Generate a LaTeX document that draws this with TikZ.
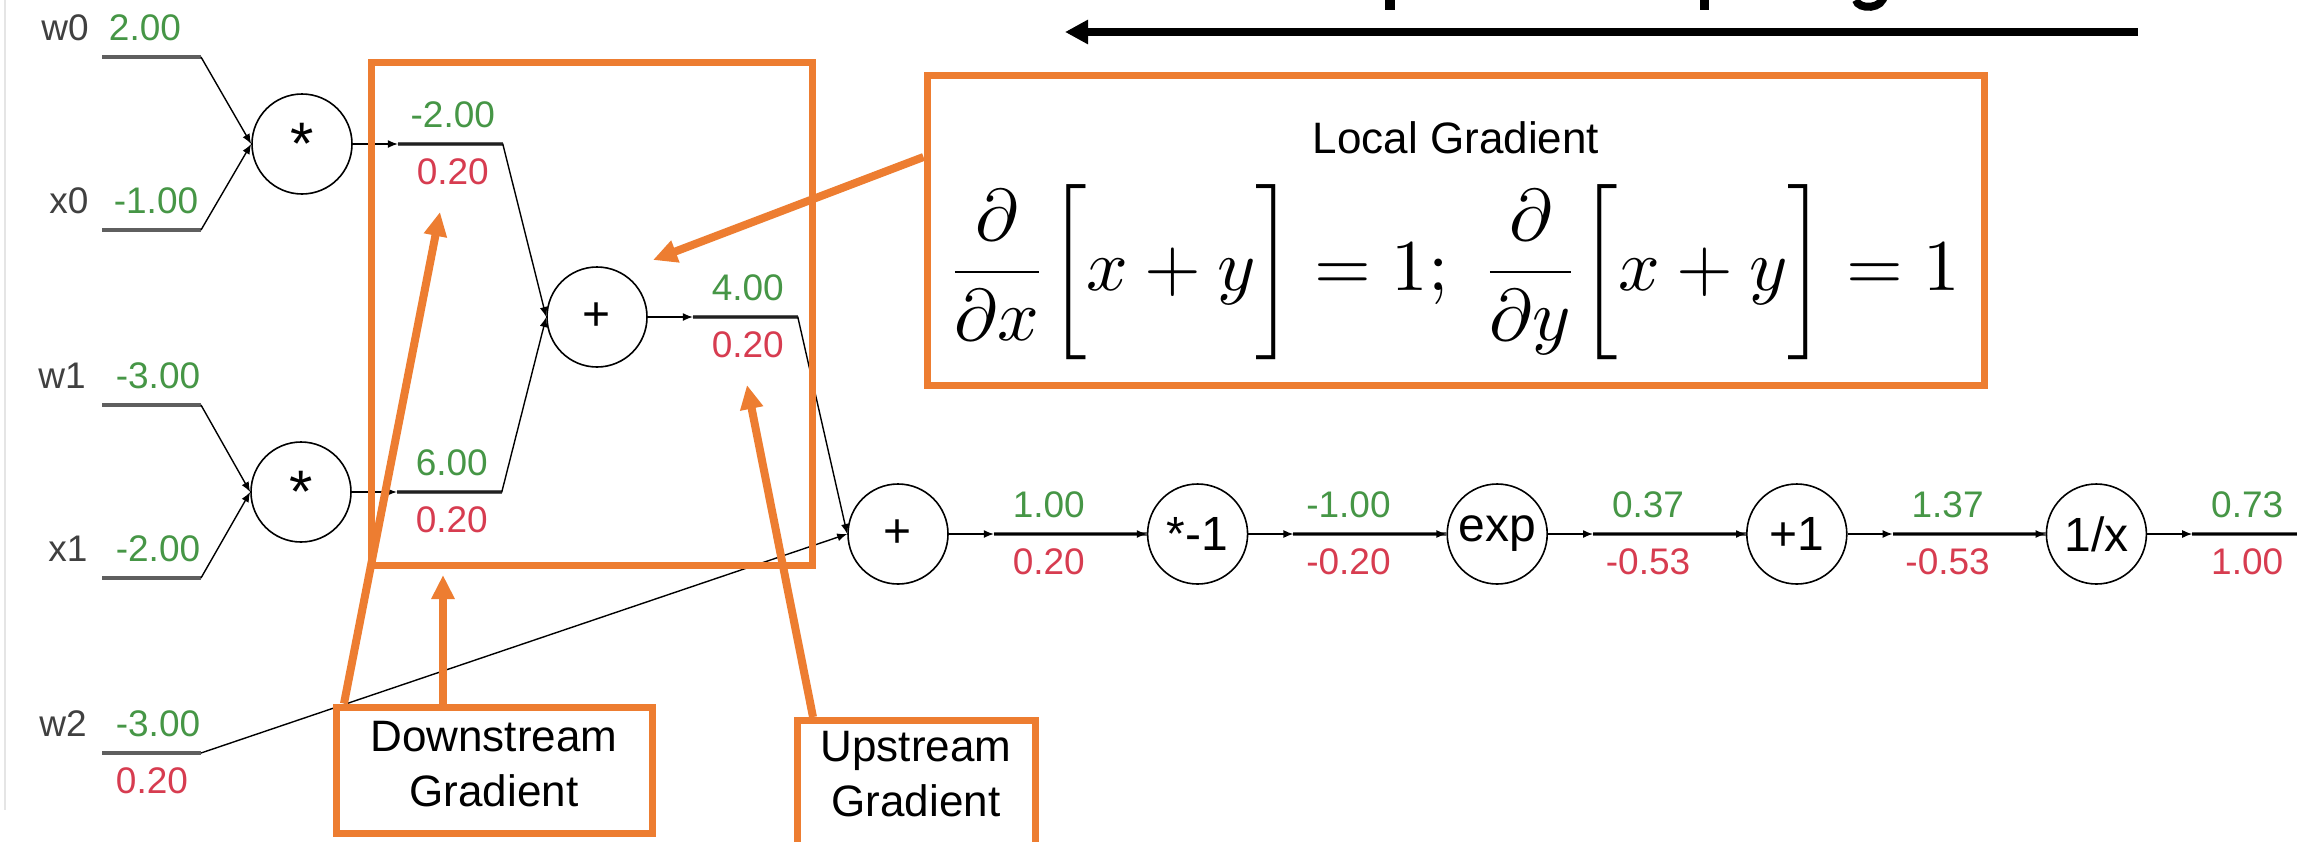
\documentclass[tikz,border=0pt]{standalone}
\usepackage{amsmath}
\usepackage{graphicx}
\usepackage[no-math]{fontspec}
\newfontfamily\arial{Liberation Sans}
\usepackage{tikz}
\usetikzlibrary{positioning, arrows.meta}

\definecolor{slideorange}{RGB}{237,125,49}
\definecolor{valgreen}{RGB}{70,150,70}
\definecolor{gradred}{RGB}{215,60,80}
\definecolor{wiregray}{RGB}{95,95,95}

\begin{document}
\begin{tikzpicture}[x=0.5pt, y=-0.5pt,
  font=\arial,
  gate/.style={draw, circle, line width=0.8pt, minimum size=50pt, inner sep=0pt,
    font=\arial\fontsize{24pt}{24pt}\selectfont},
  wire/.style={line width=0.7pt, -{Latex[length=5pt,width=4pt]}},
  valline/.style={line width=1.8pt, draw=wiregray},
  val/.style={text=valgreen, inner sep=0pt, font=\arial\fontsize{18.5pt}{20pt}\selectfont},
  grad/.style={val, text=gradred},
  inname/.style={val, text=black!75},
  obox/.style={draw=slideorange, line width=3.5pt},
  oarrow/.style={draw=slideorange, line width=4pt, -{Triangle[length=12pt,width=11pt]}},
  boxtext/.style={align=center, inner sep=0pt, font=\arial\fontsize{22pt}{27.5pt}\selectfont},
]
  \useasboundingbox (0,0) rectangle (2305,841);
  \clip (0,0) rectangle (2305,841);
  \fill[white] (0,0) rectangle (2305,841);
  \draw[black!10, line width=0.6pt] (5,0) -- (5,810);

  % cut-off title, only descenders left
  \fill (1385,0) rectangle (1395,10);
  \fill (1700,0) rectangle (1709,10);
  \draw[line width=4pt] (1884,-6) .. controls (1884,10) and (1858,10) .. (1856,0);

  % backward direction
  \coordinate (bpstart) at (2138,32);
  \coordinate (bpend) at (1065,32);
  \draw[line width=4pt, -{Triangle[length=11.5pt,width=11.5pt]}] (bpstart) -- (bpend);

  % gates
  \node[gate] (mul0) at (302,144) {\raisebox{-7pt}{\fontsize{30pt}{30pt}\selectfont *}};
  \node[gate] (mul1) at (301,492) {\raisebox{-7pt}{\fontsize{30pt}{30pt}\selectfont *}};
  \node[gate] (add0) at (597,317) {+};
  \node[gate] (add1) at (898,534) {+};
  \node[gate, right=99pt of add1] (neg) {*-1};
  \node[gate, right=99pt of neg] (expg) {exp};
  \node[gate, right=99pt of expg] (inc) {+1};
  \node[gate, right=99pt of inc] (inv) {1/x};

  % inputs
  \foreach \n/\y/\v/\lx/\vx/\g in {w0/57/2.00/65/145/mul0, x0/230/-1.00/69/156/mul0,
      w1/405/-3.00/62/158/mul1, x1/578/-2.00/68/158/mul1, w2/753/-3.00/63/158/add1}{
    \coordinate (\n s) at (102,\y);
    \coordinate (\n e) at (201,\y);
    \draw[valline] (\n s) -- (\n e);
    \draw[wire] (\n e) -- (\g.west);
    \node[inname] (\n name) at (\lx,\y-29) {\n};
    \node[val] (\n val) at (\vx,\y-29) {\v};
  }
  \node[grad] (w2grad) at (152,781) {0.20};

  % inner wires
  \foreach \a/\b/\v/\g in {mul0/add0/-2.00/0.20, mul1/add0/6.00/0.20, add0/add1/4.00/0.20}{
    \coordinate (\a tip) at ([xshift=22.5pt]\a.east);
    \coordinate (\a end) at ([xshift=75pt]\a.east);
    \draw[valline] (\a tip) -- (\a end);
    \draw[wire] (\a.east) -- (\a tip);
    \draw[wire] (\a tip) -- (\a end) -- (\b.west);
    \node[val] at ([xshift=50pt,yshift=14.5pt]\a.east) {\v};
    \node[grad] at ([xshift=50pt,yshift=-14pt]\a.east) {\g};
  }

  % sigmoid chain
  \foreach \a/\b/\v/\g in {add1/neg/1.00/0.20, neg/expg/-1.00/-0.20,
      expg/inc/0.37/-0.53, inc/inv/1.37/-0.53}{
    \coordinate (\a tip) at ([xshift=22.5pt]\a.east);
    \draw[valline] (\a tip) -- (\b.west);
    \draw[wire] (\a.east) -- (\a tip);
    \draw[wire] (\a tip) -- (\b.west);
    \node[val] at ([xshift=50pt,yshift=14.5pt]\a.east) {\v};
    \node[grad] at ([xshift=50pt,yshift=-14pt]\a.east) {\g};
  }
  \coordinate (invtip) at ([xshift=22.5pt]inv.east);
  \coordinate (outend) at ([xshift=75pt]inv.east);
  \draw[valline] (invtip) -- (outend);
  \draw[wire] (inv.east) -- (invtip);
  \draw[line width=0.7pt] (invtip) -- (outend);
  \node[val] at ([xshift=50pt,yshift=14.5pt]inv.east) {0.73};
  \node[grad] at ([xshift=50pt,yshift=-14pt]inv.east) {1.00};

  % orange annotations
  \draw[obox] (371,62) rectangle (812,565);
  \node[obox, minimum width=528.5pt, minimum height=155pt, inner sep=0pt] (local) at (1455.5,230) {};
  \node[boxtext] (localtitle) at (1456,138) {Local Gradient};
  \node[inner sep=0pt] (localeq) at (1453,272) {\scalebox{3.65}{\fontsize{10pt}{12pt}\selectfont
    $\displaystyle \frac{\partial}{\partial x}\biggl[x+y\biggr]=1;\ \frac{\partial}{\partial y}\biggl[x+y\biggr]=1$}};

  \node[obox, minimum width=158pt, minimum height=63pt, inner sep=0pt] (down) at (494,770) {};
  \node[boxtext, below=8.5pt of down.north] (downtext) {Downstream\\Gradient};
  \node[obox, minimum width=119pt, minimum height=80pt, inner sep=0pt, anchor=north] (up) at (916,717) {};
  \node[boxtext, below=7pt of up.north] (uptext) {Upstream\\Gradient};

  \coordinate (localtip) at (653,260);
  \coordinate (downtip) at (443,575);
  \coordinate (downtip2) at (440,212);
  \coordinate (uptip) at (747,385);
  \draw[oarrow] ([yshift=36.5pt]local.west) -- (localtip);
  \draw[oarrow] ([xshift=-25.5pt]down.north) -- (downtip);
  \draw[oarrow] ([xshift=-75pt]down.north) -- (downtip2);
  \draw[oarrow] ([xshift=-51.5pt]up.north) -- (uptip);
\end{tikzpicture}
\end{document}
